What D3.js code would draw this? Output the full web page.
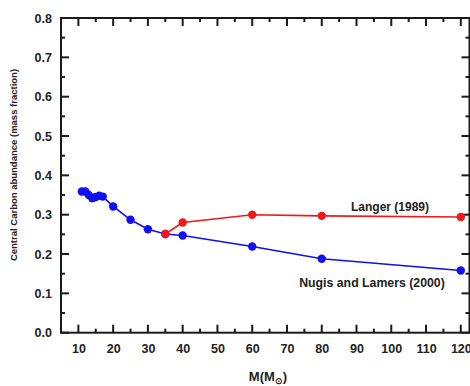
<!DOCTYPE html>
<html><head><meta charset="utf-8">
<script src="https://cdn.jsdelivr.net/npm/d3@7"></script>
<style>body{margin:0;background:#fff}svg{display:block;font-family:Arial,"Liberation Sans",sans-serif}</style>
</head><body><svg id="c" width="470" height="386"></svg>
<script>
const nugisMass = [11,12,13,14,15,16,17,20,25,30,35,40,60,80,120];
const nugisC    = [0.359,0.359,0.350,0.342,0.345,0.348,0.346,0.321,0.287,0.263,0.251,0.247,0.219,0.188,0.158];
const langerMass = [35,40,60,80,120];
const langerC    = [0.251,0.280,0.300,0.297,0.294];
const xTicks = [10,20,30,40,50,60,70,80,90,100,110,120];
const yTicks = [0.0,0.1,0.2,0.3,0.4,0.5,0.6,0.7,0.8];
const seriesLabels = ["Nugis and Lamers (2000)","Langer (1989)"];

const svg = d3.select("#c");
const L=61, R=469.5, T=18, B=332.7;
const x = d3.scaleLinear().domain([5,122.5]).range([L,R]);
const y = d3.scaleLinear().domain([0,0.8]).range([B,T]);
const ink="#1a1a1a";
const fam="Arial, 'Liberation Sans', sans-serif";

svg.append("rect").attr("x",L).attr("y",T).attr("width",R-L).attr("height",B-T)
  .attr("fill","none").attr("stroke",ink).attr("stroke-width",2);

const minorX = d3.range(5,123,5);
const minorY = d3.range(0,0.801,0.05);
function tickLen(isMajor){return isMajor?8:4;}
const g = svg.append("g").attr("stroke",ink).attr("stroke-width",2);
minorX.forEach(v=>{
  const maj = v%10===0;
  g.append("line").attr("x1",x(v)).attr("x2",x(v)).attr("y1",B).attr("y2",B-tickLen(maj));
  g.append("line").attr("x1",x(v)).attr("x2",x(v)).attr("y1",T).attr("y2",T+tickLen(maj));
});
minorY.forEach((v,i)=>{
  const maj = i%2===0;
  g.append("line").attr("y1",y(v)).attr("y2",y(v)).attr("x1",L).attr("x2",L+tickLen(maj));
  g.append("line").attr("y1",y(v)).attr("y2",y(v)).attr("x1",R).attr("x2",R-tickLen(maj));
});

const xAxis = d3.axisBottom(x).tickValues(xTicks).tickSize(0).tickPadding(0).tickFormat(d3.format("d"));
const xg = svg.append("g").attr("transform",`translate(0,${B+11})`).call(xAxis);
xg.select(".domain").remove();
xg.selectAll("text").attr("font-size",12.5).attr("font-weight","bold").attr("fill","#222").attr("font-family",fam);
const yAxis = d3.axisLeft(y).tickValues(yTicks).tickSize(0).tickPadding(9).tickFormat(d3.format(".1f"));
const yg = svg.append("g").attr("transform",`translate(${L},0)`).call(yAxis);
yg.select(".domain").remove();
yg.selectAll("text").attr("font-size",12.5).attr("font-weight","bold").attr("fill","#222").attr("font-family",fam);

const xt = svg.append("text").attr("x",268).attr("y",381).attr("text-anchor","middle")
  .attr("font-size",13).attr("font-weight","bold").attr("fill","#222");
xt.append("tspan").text("M(M");
xt.append("tspan").attr("font-size",9).attr("dy",3).text("\u2299");
xt.append("tspan").attr("dy",-3).text(")");
svg.append("text").attr("transform","translate(17,165) rotate(-90)").attr("text-anchor","middle")
  .attr("font-size",9.5).attr("font-weight","bold").attr("fill","#222")
  .text("Central Carbon abundance (mass fraction)");

const line = d3.line().x(d=>x(d[0])).y(d=>y(d[1]));
const nugis = nugisMass.map((m,i)=>[m,nugisC[i]]);
const langer = langerMass.map((m,i)=>[m,langerC[i]]);
const blue="#1010f0", red="#f01818";
svg.append("path").datum(nugis).attr("d",line).attr("fill","none").attr("stroke",blue).attr("stroke-width",1.6);
svg.selectAll(".nb").data(nugis).enter().append("circle").attr("cx",d=>x(d[0])).attr("cy",d=>y(d[1])).attr("r",4.2).attr("fill",blue);
svg.append("path").datum(langer).attr("d",line).attr("fill","none").attr("stroke",red).attr("stroke-width",1.6);
svg.selectAll(".lr").data(langer).enter().append("circle").attr("cx",d=>x(d[0])).attr("cy",d=>y(d[1])).attr("r",4.2).attr("fill",red);

svg.append("text").attr("x",390).attr("y",211).attr("text-anchor","middle")
  .attr("font-size",12).attr("font-weight","bold").attr("fill","#222").text(seriesLabels[1]);
svg.append("text").attr("x",372).attr("y",287).attr("text-anchor","middle")
  .attr("font-size",12.3).attr("font-weight","bold").attr("fill","#222").text(seriesLabels[0]);
</script></body></html>
